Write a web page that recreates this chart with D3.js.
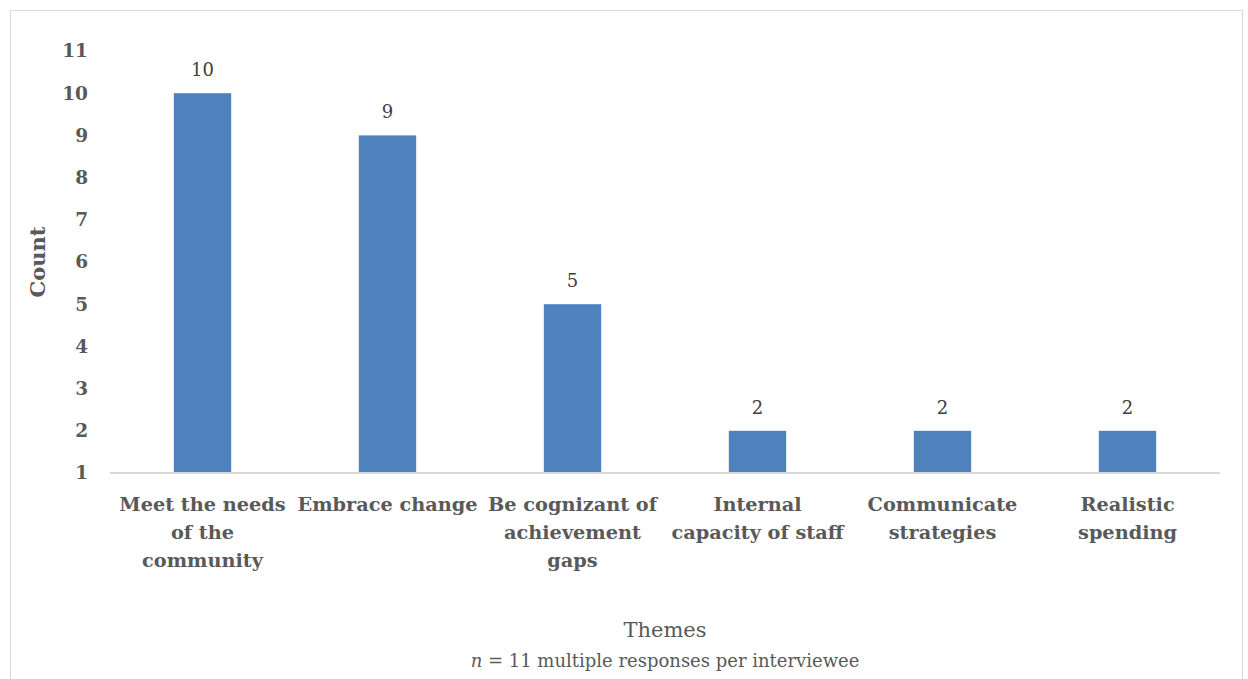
<!DOCTYPE html>
<html>
<head>
<meta charset="utf-8">
<script src="https://cdn.jsdelivr.net/npm/d3@7"></script>
<style>
  html, body { margin: 0; padding: 0; background: #fff; }
  svg { display: block; }
  text { font-family: "DejaVu Serif", "Liberation Serif", serif; }
</style>
</head>
<body>
<svg id="chart" width="1248" height="679"></svg>
<script>
// Themes and how many interviewees mentioned each
const categories = [
  ["Meet the needs", "of the", "community"],
  ["Embrace change"],
  ["Be cognizant of", "achievement", "gaps"],
  ["Internal", "capacity of staff"],
  ["Communicate", "strategies"],
  ["Realistic", "spending"]
];
const counts = [10, 9, 5, 2, 2, 2];
const yTicks = [1, 2, 3, 4, 5, 6, 7, 8, 9, 10, 11];
const yTitle = "Count";
const xTitle = "Themes";

const W = 1248, H = 679;
const margin = { left: 110, right: 28, top: 51, bottom: 206 };
const svg = d3.select("#chart");

// chart frame
svg.append("rect")
  .attr("x", 10.5).attr("y", 10.5)
  .attr("width", 1232).attr("height", 700)
  .attr("fill", "#fff").attr("stroke", "#d9d9d9").attr("stroke-width", 1);

const keys = categories.map((c, i) => i);
const x = d3.scaleBand()
  .domain(keys)
  .range([margin.left, W - margin.right])
  .paddingInner(0.69).paddingOuter(0.345);

const y = d3.scaleLinear()
  .domain([1, 11])
  .range([H - margin.bottom, margin.top]);

// bars
svg.append("g").selectAll("rect")
  .data(counts)
  .join("rect")
  .attr("x", (d, i) => x(i))
  .attr("y", d => y(d))
  .attr("width", x.bandwidth())
  .attr("height", d => y(1) - y(d))
  .attr("fill", "#4f81bd");

// value labels
svg.append("g").selectAll("text")
  .data(counts)
  .join("text")
  .attr("x", (d, i) => x(i) + x.bandwidth() / 2)
  .attr("y", d => y(d) - 17)
  .attr("text-anchor", "middle")
  .attr("font-size", 18)
  .attr("fill", "#404040")
  .text(d => d);

// y axis (labels only)
const yAxis = d3.axisLeft(y).tickValues(yTicks).tickSize(0).tickPadding(0).tickFormat(d3.format("d"));
const gy = svg.append("g")
  .attr("transform", `translate(${margin.left - 22},0)`)
  .call(yAxis);
gy.select(".domain").remove();
gy.selectAll("text")
  .attr("font-size", 18.5).attr("font-weight", "bold")
  .attr("fill", "#595959")
  .attr("font-family", "DejaVu Serif, serif");

// x axis
const xAxis = d3.axisBottom(x).tickSize(0).tickFormat(() => "");
const gx = svg.append("g")
  .attr("transform", `translate(0,${y(1)})`)
  .call(xAxis);
gx.select(".domain").attr("stroke", "#d9d9d9").attr("stroke-width", 2)
  .attr("d", `M${margin.left},0H${W - margin.right}`);

// multi-line category labels
gx.selectAll(".tick").each(function (d) {
  const t = d3.select(this).append("text")
    .attr("text-anchor", "middle")
    .attr("font-size", 19.3).attr("font-weight", "bold")
    .attr("fill", "#595959");
  categories[d].forEach((line, k) => {
    t.append("tspan").attr("x", 0).attr("y", 38 + k * 28).text(line);
  });
});

// axis titles
svg.append("text")
  .attr("transform", `translate(45,${(y(1) + y(11)) / 2}) rotate(-90)`)
  .attr("text-anchor", "middle")
  .attr("font-size", 21).attr("font-weight", "bold")
  .attr("fill", "#595959")
  .text(yTitle);

const cx = (margin.left + W - margin.right) / 2;
svg.append("text")
  .attr("x", cx).attr("y", 637)
  .attr("text-anchor", "middle")
  .attr("font-size", 21).attr("fill", "#595959")
  .text(xTitle);

const sub = svg.append("text")
  .attr("x", cx).attr("y", 667)
  .attr("text-anchor", "middle")
  .attr("font-size", 18).attr("fill", "#595959");
sub.append("tspan").attr("font-style", "italic").text("n");
sub.append("tspan").text(" = 11 multiple responses per interviewee");
</script>
</body>
</html>
